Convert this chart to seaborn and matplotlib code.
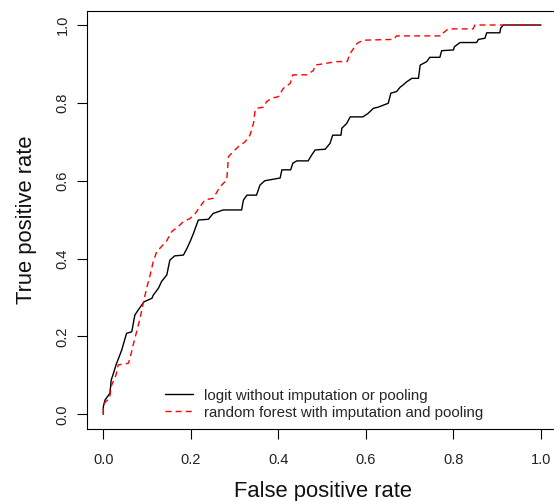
import numpy as np
import pandas as pd
import matplotlib
matplotlib.use("Agg")
import matplotlib.pyplot as plt
import seaborn as sns

# ROC curve vertices (false positive rate, true positive rate)
logit_fpr = [0.000, 0.000, 0.004, 0.015, 0.018, 0.023, 0.029, 0.042, 0.053, 0.065,
             0.072, 0.084, 0.093, 0.111, 0.114, 0.126, 0.133, 0.145, 0.152, 0.163,
             0.183, 0.191, 0.198, 0.206, 0.217, 0.240, 0.251, 0.274, 0.316, 0.320,
             0.328, 0.350, 0.358, 0.369, 0.404, 0.408, 0.428, 0.433, 0.442, 0.468,
             0.476, 0.484, 0.507, 0.518, 0.524, 0.543, 0.545, 0.556, 0.564, 0.593,
             0.605, 0.617, 0.628, 0.651, 0.657, 0.670, 0.678, 0.685, 0.693, 0.705,
             0.720, 0.724, 0.739, 0.746, 0.769, 0.773, 0.800, 0.802, 0.815, 0.853,
             0.857, 0.872, 0.876, 0.906, 0.908, 0.914, 1.000]
logit_tpr = [0.000, 0.020, 0.037, 0.054, 0.088, 0.105, 0.127, 0.165, 0.208, 0.212,
             0.255, 0.275, 0.289, 0.298, 0.306, 0.324, 0.341, 0.358, 0.396, 0.407,
             0.409, 0.426, 0.443, 0.465, 0.499, 0.501, 0.516, 0.525, 0.525, 0.550,
             0.563, 0.563, 0.589, 0.600, 0.607, 0.628, 0.628, 0.645, 0.651, 0.651,
             0.666, 0.679, 0.681, 0.696, 0.717, 0.717, 0.735, 0.747, 0.764, 0.764,
             0.773, 0.786, 0.789, 0.799, 0.825, 0.829, 0.840, 0.846, 0.854, 0.863,
             0.863, 0.897, 0.906, 0.917, 0.917, 0.934, 0.936, 0.944, 0.955, 0.955,
             0.963, 0.966, 0.980, 0.980, 0.992, 1.000, 1.000]

rf_fpr = [0.000, 0.000, 0.005, 0.014, 0.019, 0.029, 0.034, 0.057, 0.061, 0.069,
          0.076, 0.084, 0.091, 0.099, 0.107, 0.114, 0.122, 0.133, 0.145, 0.156,
          0.171, 0.183, 0.198, 0.210, 0.221, 0.232, 0.251, 0.267, 0.282, 0.286,
          0.297, 0.308, 0.324, 0.335, 0.343, 0.347, 0.350, 0.366, 0.373, 0.385,
          0.400, 0.411, 0.427, 0.433, 0.465, 0.480, 0.484, 0.533, 0.557, 0.564,
          0.580, 0.594, 0.663, 0.670, 0.773, 0.777, 0.788, 0.845, 0.849, 1.000]
rf_tpr = [0.000, 0.024, 0.032, 0.041, 0.075, 0.101, 0.127, 0.131, 0.144, 0.182,
          0.212, 0.247, 0.285, 0.324, 0.358, 0.392, 0.418, 0.431, 0.446, 0.469,
          0.482, 0.495, 0.503, 0.516, 0.533, 0.551, 0.555, 0.585, 0.602, 0.662,
          0.675, 0.687, 0.700, 0.717, 0.747, 0.782, 0.786, 0.789, 0.803, 0.812,
          0.816, 0.837, 0.850, 0.872, 0.872, 0.883, 0.897, 0.906, 0.906, 0.927,
          0.953, 0.961, 0.963, 0.972, 0.972, 0.980, 0.990, 0.990, 1.000, 1.000]

tick_vals = [0.0, 0.2, 0.4, 0.6, 0.8, 1.0]
tick_labels = ["0.0", "0.2", "0.4", "0.6", "0.8", "1.0"]
labels = ["logit without imputation or pooling",
          "random forest with imputation and pooling"]

sns.set_theme(style="ticks")
plt.rcParams['font.family'] = ['Liberation Sans', 'DejaVu Sans']

df_logit = pd.DataFrame({'fpr': logit_fpr, 'tpr': logit_tpr})
df_rf = pd.DataFrame({'fpr': rf_fpr, 'tpr': rf_tpr})

fig = plt.figure(figsize=(5.54, 5.01), dpi=100)
# axes box runs past the right edge like the cropped reference
ax = fig.add_axes([0.1565, 0.1431, 0.8516, 0.8355])

sns.lineplot(data=df_logit, x='fpr', y='tpr', estimator=None, sort=False,
             color='black', lw=1.0, label=labels[0], ax=ax)
sns.lineplot(data=df_rf, x='fpr', y='tpr', estimator=None, sort=False,
             color='#FF0000', lw=1.0, linestyle=(0, (4.3, 3.0)), label=labels[1], ax=ax)

ax.set_xlim(-0.038, 1.04)
ax.set_ylim(-0.0385, 1.0367)
ax.set_xticks(tick_vals)
ax.set_xticklabels(tick_labels)
ax.set_yticks(tick_vals)
ax.set_yticklabels(tick_labels, rotation=90, va='center')
ax.tick_params(axis='both', direction='out', length=7.2, width=0.8,
               color='black', labelsize=10.5, labelcolor='#222222')
ax.tick_params(axis='x', pad=10)
ax.tick_params(axis='y', pad=5)

for sp in ax.spines.values():
    sp.set_visible(True)
    sp.set_color('black')
    sp.set_linewidth(0.8)

ax.set_xlabel('False positive rate', fontsize=15.8, color='#111111')
ax.set_ylabel('True positive rate', fontsize=15.8, color='#111111')
ax.xaxis.set_label_coords(0.5, -0.123)
ax.yaxis.set_label_coords(-0.106, 0.5)

ax.legend(loc='center left', bbox_to_anchor=(0.166, 0.060), frameon=False,
          fontsize=10.8, handlelength=1.85, handletextpad=0.75,
          labelspacing=0.2, borderpad=0, borderaxespad=0)

fig.savefig('out.png', dpi=100)
